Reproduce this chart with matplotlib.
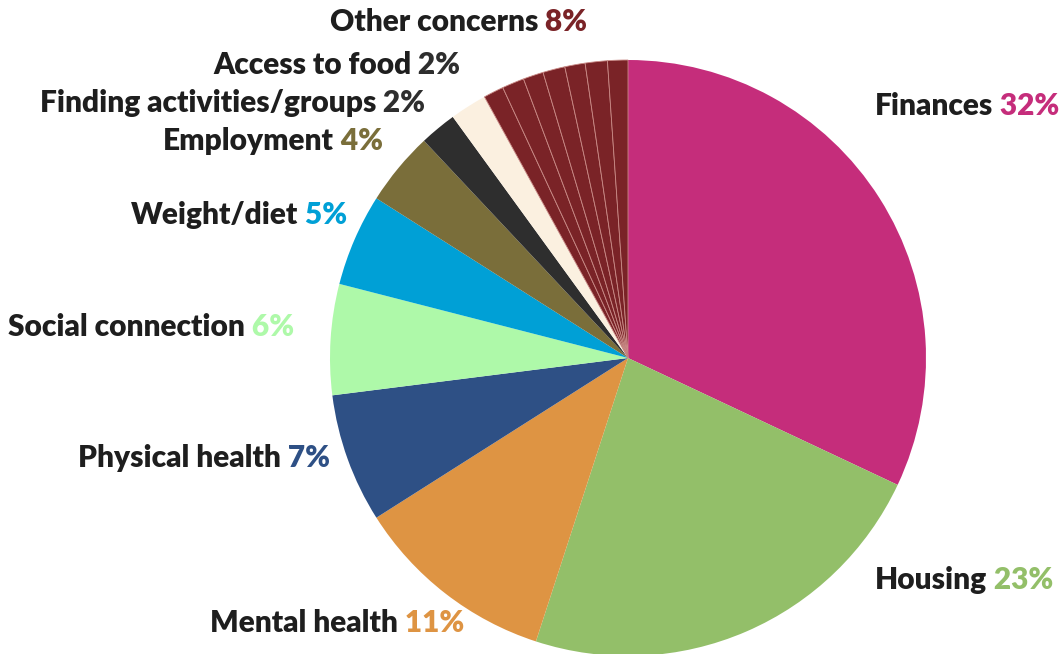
import matplotlib
matplotlib.use('Agg')
import matplotlib.pyplot as plt

# main categories, clockwise from 12 o'clock
categories = ['Finances', 'Housing', 'Mental health', 'Physical health',
              'Social connection', 'Weight/diet', 'Employment',
              'Finding activities/groups', 'Access to food', 'Other concerns']
percents = [32, 23, 11, 7, 6, 5, 4, 2, 2, 8]
colors = ['#c52d7b', '#93bf69', '#de9443', '#2e5085', '#aef9a9',
          '#00a0d6', '#7a6e3a', '#2e2e2e', '#fbf0e0', '#7a2327']
# "Other concerns" is drawn as several thin sub-slices
other_parts = [1.1, 1.2, 1.1, 1.2, 1.1, 1.2, 1.1]

# label anchor (left edge x, centre y) in pixel coords of the 1063x654 image
label_pos = {
    'Finances': (875, 106),
    'Housing': (875, 580),
    'Mental health': (210, 623),
    'Physical health': (78, 458),
    'Social connection': (8, 327),
    'Weight/diet': (131, 215),
    'Employment': (163, 141),
    'Finding activities/groups': (40, 103),
    'Access to food': (213, 65),
    'Other concerns': (330, 22),
}
pct_colors = dict(zip(categories, colors))
pct_colors['Finding activities/groups'] = '#2e2e2e'
pct_colors['Access to food'] = '#2e2e2e'

W, H = 1063, 654
fig = plt.figure(figsize=(W / 100, H / 100), dpi=100)
ax = fig.add_axes([0, 0, 1, 1])

cx, cy, r = 628, H - 358, 298

sizes = percents[:-1] + other_parts
slice_colors = colors[:-1] + [colors[-1]] * len(other_parts)
wedges, _ = ax.pie(sizes, colors=slice_colors, startangle=90, counterclock=False,
                   center=(cx, cy), radius=r, frame=True,
                   wedgeprops=dict(linewidth=0))
for w in wedges[len(percents) - 1:]:
    w.set_edgecolor('#c98a86')
    w.set_linewidth(0.6)
ax.set_xlim(0, W)
ax.set_ylim(0, H)
ax.set_aspect('auto')
ax.axis('off')

font = dict(family=['Lato', 'DejaVu Sans'], fontsize=21.5, fontweight='heavy')
for name, pct in zip(categories, percents):
    x, y = label_pos[name]
    t = ax.text(x, H - y, name, ha='left', va='center', color='#1e1e1e', **font)
    ax.annotate(f' {pct}%', xy=(1, 0), xycoords=t, ha='left', va='bottom',
                color=pct_colors[name], **font)

fig.savefig('out.png', dpi=100)
